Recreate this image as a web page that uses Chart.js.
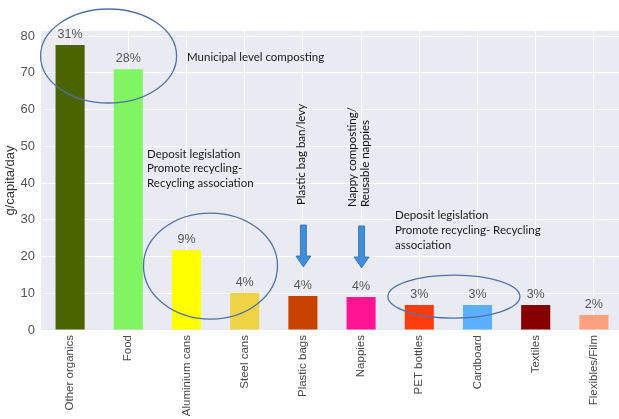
<!DOCTYPE html>
<html>
<head>
<meta charset="utf-8">
<script src="https://cdn.jsdelivr.net/npm/chart.js"></script>
<style>
  html, body { margin: 0; padding: 0; background: #fff; overflow: hidden; }
  #wrap { width: 623px; height: 419px; }
</style>
</head>
<body>
<div id="wrap"><canvas id="wasteChart" width="623" height="419"></canvas></div>
<script>
const categories = ['Other organics', 'Food', 'Aluminium cans', 'Steel cans', 'Plastic bags',
                    'Nappies', 'PET bottles', 'Cardboard', 'Textiles', 'Flexibles/Film'];
const gramsPerDay = [77.6, 71.0, 21.8, 10.1, 9.25, 9.0, 6.8, 6.8, 6.8, 4.1];
const shareLabels = ['31%', '28%', '9%', '4%', '4%', '4%', '3%', '3%', '3%', '2%'];
const barColors = ['#4a6500', '#80f462', '#ffff00', '#eed444', '#c94300',
                   '#ff1493', '#ff3b10', '#5aafff', '#870000', '#ffa07f'];
const yTicks = [0, 10, 20, 30, 40, 50, 60, 70, 80];
const yMax = 81.4;

const ARIAL = "'Liberation Sans', Arial, sans-serif";
const NOTE = "Lato, 'Open Sans', sans-serif";

// grey seaborn-like panel behind the bars
const panelBg = {
    id: 'panelBg',
    beforeDraw(chart) {
        const a = chart.chartArea, ctx = chart.ctx;
        ctx.save();
        ctx.fillStyle = '#eaeaf2';
        ctx.fillRect(a.left, a.top, a.right - a.left, a.bottom - a.top);
        ctx.restore();
    }
};

// percentage share above each bar
const shareText = {
    id: 'shareText',
    afterDatasetsDraw(chart) {
        const ctx = chart.ctx;
        const bars = chart.getDatasetMeta(0).data;
        ctx.save();
        ctx.font = '12.5px ' + ARIAL;
        ctx.fillStyle = '#555';
        ctx.textAlign = 'center';
        ctx.textBaseline = 'bottom';
        bars.forEach((b, i) => ctx.fillText(shareLabels[i], b.x, b.y - 4));
        ctx.restore();
    }
};

// ellipses, arrows and policy notes
const notes = {
    id: 'notes',
    afterDraw(chart) {
        const ctx = chart.ctx, x = chart.scales.x, y = chart.scales.y;
        const cx = i => x.getPixelForValue(i);
        const cy = v => y.getPixelForValue(v);

        ctx.save();
        ctx.strokeStyle = '#4f72a6';
        ctx.lineWidth = 1.3;
        [[cx(0) + 38.5, cy(74.6), 68, 47],
         [cx(2) + 24, cy(17.4), 67, 53],
         [(cx(6) + cx(7)) / 2 + 5.5, cy(9.1), 66, 21.5]].forEach(e => {
            ctx.beginPath();
            ctx.ellipse(e[0], e[1], e[2], e[3], 0, 0, Math.PI * 2);
            ctx.stroke();
        });

        // down arrows over plastic bags and nappies
        [4, 5].forEach(i => {
            const ax = cx(i) + 0.5;
            const tip = cy(gramsPerDay[i]) - 29;
            const tail = tip - 42;
            ctx.beginPath();
            ctx.moveTo(ax - 3, tail);
            ctx.lineTo(ax + 3, tail);
            ctx.lineTo(ax + 3, tip - 11);
            ctx.lineTo(ax + 7.5, tip - 11);
            ctx.lineTo(ax, tip);
            ctx.lineTo(ax - 7.5, tip - 11);
            ctx.lineTo(ax - 3, tip - 11);
            ctx.closePath();
            ctx.fillStyle = '#3f8fd8';
            ctx.fill();
            ctx.strokeStyle = '#2e6aa8';
            ctx.lineWidth = 0.8;
            ctx.stroke();
        });

        ctx.fillStyle = '#1a1a1a';
        ctx.font = '11.5px ' + NOTE;
        ctx.textAlign = 'left';
        ctx.textBaseline = 'middle';
        ctx.fillText('Municipal level composting', 187, 57);
        ['Deposit legislation', 'Promote recycling-', 'Recycling association']
            .forEach((t, k) => ctx.fillText(t, 147, 154 + k * 14.5));
        ['Deposit legislation', 'Promote recycling- Recycling', 'association']
            .forEach((t, k) => ctx.fillText(t, 395, 215 + k * 15));

        const vtext = (t, px, py) => {
            ctx.save();
            ctx.translate(px, py);
            ctx.rotate(-Math.PI / 2);
            ctx.fillText(t, 0, 0);
            ctx.restore();
        };
        ctx.fillStyle = '#111';
        vtext('Plastic bag ban/levy', cx(4) - 2, 205);
        vtext('Nappy composting/', cx(5) - 9, 207);
        vtext('Reusable nappies', cx(5) + 4, 207);
        ctx.restore();
    }
};

new Chart(document.getElementById('wasteChart'), {
    type: 'bar',
    data: {
        labels: categories,
        datasets: [{
            data: gramsPerDay,
            backgroundColor: barColors,
            borderWidth: 0,
            barPercentage: 0.5,
            categoryPercentage: 1.0
        }]
    },
    options: {
        responsive: false,
        animation: false,
        layout: { padding: { top: 31, right: 0, left: 0, bottom: 0 } },
        plugins: { legend: { display: false }, tooltip: { enabled: false } },
        scales: {
            x: {
                grid: { color: '#ffffff', offset: false, drawTicks: false },
                border: { display: false },
                ticks: {
                    minRotation: 90, maxRotation: 90, autoSkip: false,
                    color: '#4a4a4a', padding: 5,
                    font: { family: ARIAL, size: 11.5 }
                },
                afterFit: s => { s.height = 89; }
            },
            y: {
                min: 0, max: yMax,
                grid: { color: '#ffffff', drawTicks: false },
                border: { display: false },
                ticks: {
                    color: '#555', padding: 6,
                    font: { family: ARIAL, size: 13 }
                },
                title: {
                    display: true, text: 'g/capita/day', color: '#333',
                    font: { family: ARIAL, size: 13 }, padding: { top: 3, bottom: 2 }
                },
                afterBuildTicks: s => { s.ticks = yTicks.map(v => ({ value: v })); },
                afterFit: s => { s.width = 41; }
            }
        }
    },
    plugins: [panelBg, shareText, notes]
});
</script>
</body>
</html>
